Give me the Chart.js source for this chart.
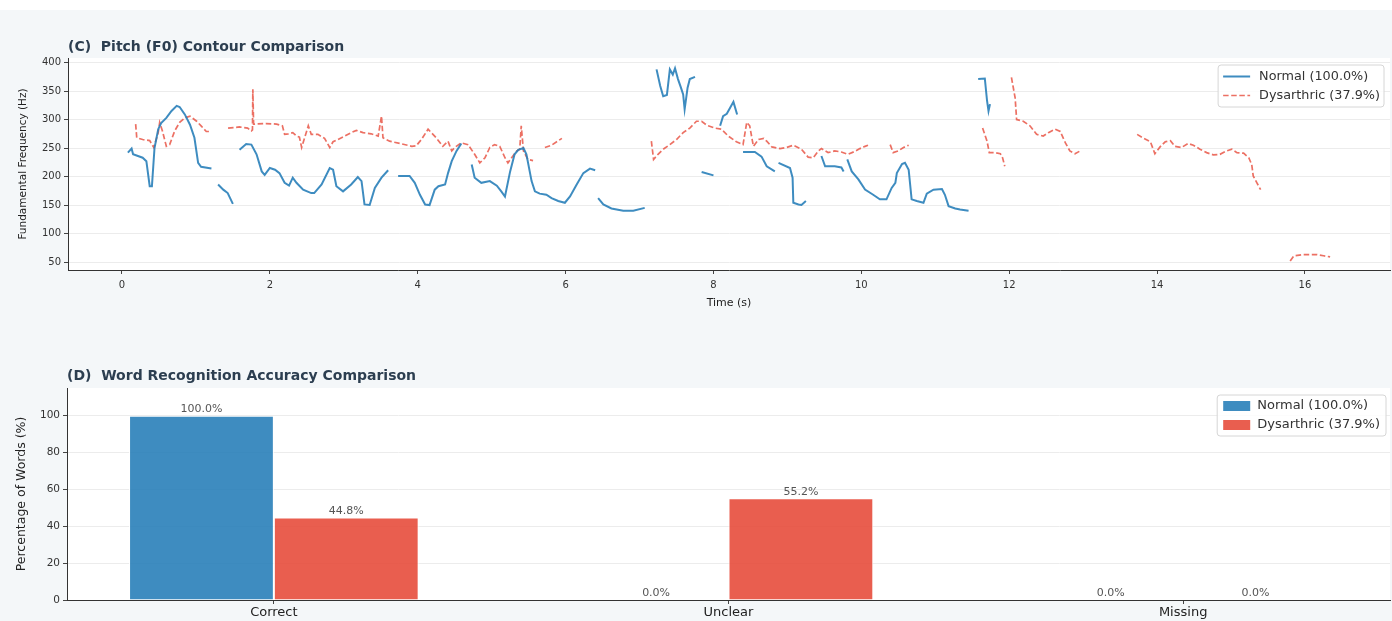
<!DOCTYPE html>
<html>
<head>
<meta charset="utf-8">
<script src="https://cdn.jsdelivr.net/npm/chart.js@4.4.0/dist/chart.umd.min.js"></script>
<style>
  html, body { margin: 0; padding: 0; background: #f4f7f9; }
  body { width: 1392px; height: 621px; position: relative; overflow: hidden; }
  #strip { position: absolute; left: 0; top: 0; width: 1392px; height: 10px; background: #ffffff; }
  #pitch { position: absolute; left: 0; top: 0; }
  #words { position: absolute; left: 0; top: 320px; }
</style>
</head>
<body>
<div id="strip"></div>
<canvas id="pitch" width="1392" height="320"></canvas>
<canvas id="words" width="1392" height="301"></canvas>
<script>
// ---------------- DATA ----------------
const seriesNames = ['Normal (100.0%)', 'Dysarthric (37.9%)'];

// Pitch contour, normal speaker (time in s, F0 in Hz; null = unvoiced gap)
const normalTime = [
  0.08, 0.13, 0.15, 0.28, 0.33, 0.375, 0.405, 0.44, 0.49, 0.53, 0.60, 0.67, 0.74, 0.78, 0.85, 0.92, 0.98, 1.03, 1.07, 1.21, null,
  1.30, 1.37, 1.43, 1.50, null,
  1.59, 1.68, 1.75, 1.82, 1.89, 1.93, 2.00, 2.07, 2.13, 2.20, 2.26, 2.31, 2.36, 2.45, 2.56, 2.60, 2.70, 2.81, 2.855, 2.90, 2.99, 3.10, 3.19, 3.24, 3.28, 3.35, 3.42, 3.51, 3.60, null,
  3.735, 3.89, 3.96, 4.03, 4.10, 4.16, 4.23, 4.28, 4.37, 4.41, 4.46, 4.525, 4.59, null,
  4.73, 4.77, 4.86, 4.975, 5.07, 5.13, 5.18, 5.25, 5.31, 5.36, 5.43, 5.47, 5.54, 5.585, 5.65, 5.74, 5.81, 5.90, 5.99, 6.06, 6.15, 6.24, 6.33, 6.40, null,
  6.44, 6.51, 6.62, 6.78, 6.915, 7.07, null,
  7.23, 7.28, 7.32, 7.37, 7.41, 7.45, 7.48, 7.52, 7.56, 7.59, 7.61, 7.65, 7.68, 7.75, null,
  7.84, 8.00, null,
  8.09, 8.13, 8.18, 8.27, 8.32, null,
  8.40, 8.56, 8.65, 8.72, 8.83, null,
  8.88, 9.035, 9.07, 9.08, 9.15, 9.19, 9.25, null,
  9.46, 9.51, 9.64, 9.73, 9.76, null,
  9.81, 9.87, 9.96, 10.05, 10.16, 10.25, 10.34, 10.41, 10.46, 10.48, 10.55, 10.59, 10.64, 10.68, 10.75, 10.84, 10.885, 10.975, 11.09, 11.13, 11.18, 11.27, 11.335, 11.45, null,
  11.58, 11.67, 11.70, 11.72, 11.74
];
const normalF0 = [
  242, 249, 239, 233, 227, 183, 183, 250, 283, 294, 303, 315, 324, 322, 309, 291, 268, 224, 217, 214, null,
  186, 177, 171, 152, null,
  247, 257, 256, 239, 209, 203, 215, 212, 206, 189, 184, 198, 189, 177, 171, 171, 186, 215, 212, 183, 174, 186, 199, 192, 151, 150, 180, 198, 211, null,
  201, 201, 189, 168, 151, 150, 177, 183, 186, 206, 227, 245, 258, null,
  221, 198, 189, 192, 184, 174, 165, 209, 239, 247, 250, 239, 192, 174, 170, 168, 162, 157, 154, 165, 186, 206, 214, 211, null,
  162, 151, 144, 140, 140, 145, null,
  388, 359, 341, 343, 388, 379, 390, 371, 356, 344, 318, 356, 371, 375, null,
  208, 202, null,
  289, 306, 310, 331, 309, null,
  243, 243, 235, 218, 209, null,
  224, 215, 198, 154, 151, 150, 157, null,
  236, 218, 218, 216, 209, null,
  230, 209, 195, 177, 168, 160, 160, 180, 189, 206, 222, 224, 212, 160, 157, 154, 170, 177, 178, 168, 148, 144, 142, 140, null,
  371, 372, 333, 315, 327
];

// Pitch contour, dysarthric speaker
const dysTime = [
  0.185, 0.20, 0.28, 0.375, 0.43, 0.49, 0.51, 0.547, 0.60, 0.645, 0.713, 0.78, 0.85, 0.92, 1.01, 1.07, 1.14, 1.21, null,
  1.435, 1.59, 1.70, 1.75, 1.765, 1.77, 1.78, 1.95, 2.09, 2.17, 2.20, 2.25, 2.31, 2.36, 2.40, 2.43, 2.52, 2.56, 2.65, 2.74, 2.81, 2.855, 2.92, 3.01, 3.10, 3.17, 3.26, 3.37, 3.465, 3.51, 3.53, 3.62, 3.76, 3.92, 3.98, 4.05, 4.14, 4.25, 4.34, 4.41, 4.46, 4.50, 4.59, 4.68, 4.77, 4.84, 4.91, 4.975, 5.04, 5.11, 5.18, 5.22, 5.27, 5.34, 5.38, 5.40, 5.43, 5.49, 5.56, null,
  5.72, 5.81, 5.88, 5.95, null,
  7.16, 7.19, 7.25, 7.32, 7.41, 7.50, 7.59, 7.68, 7.77, 7.84, 7.91, 8.02, 8.11, 8.20, 8.31, 8.40, 8.45, 8.49, 8.54, 8.61, 8.68, 8.72, 8.79, 8.90, 8.99, 9.08, 9.19, 9.28, 9.35, 9.42, 9.46, 9.55, 9.64, 9.73, 9.82, 9.91, 9.98, 10.05, 10.09, null,
  10.39, 10.43, 10.50, 10.57, 10.64, null,
  11.64, 11.70, 11.73, 11.81, 11.88, 11.91, 11.94, null,
  12.03, 12.08, 12.10, 12.19, 12.28, 12.37, 12.46, 12.53, 12.62, 12.69, 12.76, 12.82, 12.89, 12.96, null,
  13.73, 13.82, 13.91, 13.97, 14.04, 14.11, 14.18, 14.24, 14.33, 14.42, 14.49, 14.58, 14.67, 14.76, 14.85, 14.94, 15.01, 15.08, 15.17, 15.24, 15.28, 15.30, 15.35, 15.40, null,
  15.80, 15.85, 15.98, 16.16, 16.25, 16.34
];
const dysF0 = [
  292, 268, 265, 263, 251, 277, 295, 280, 253, 256, 280, 295, 303, 306, 297, 289, 279, 279, null,
  285, 287, 285, 280, 282, 353, 292, 293, 292, 289, 274, 275, 277, 271, 269, 251, 289, 274, 274, 267, 251, 261, 265, 271, 277, 281, 277, 275, 271, 306, 268, 262, 258, 253, 254, 265, 283, 268, 253, 262, 245, 251, 259, 256, 239, 224, 233, 251, 256, 253, 233, 224, 233, 245, 248, 289, 245, 230, 228, null,
  251, 255, 261, 267, null,
  262, 230, 239, 248, 256, 265, 277, 285, 297, 297, 290, 285, 283, 271, 261, 256, 295, 289, 253, 265, 267, 262, 252, 249, 251, 255, 248, 234, 233, 245, 249, 242, 245, 243, 239, 244, 249, 253, 255, null,
  256, 242, 245, 251, 255, null,
  285, 262, 242, 242, 240, 233, 218, null,
  374, 338, 300, 297, 289, 274, 271, 277, 283, 279, 259, 245, 240, 245, null,
  274, 267, 261, 240, 252, 261, 263, 253, 251, 258, 255, 248, 242, 238, 239, 245, 248, 242, 241, 233, 221, 201, 189, 177, null,
  52, 61, 63, 63, 61, 59
];
const pitchYTicksStep = 50;
const pitchXTicksStep = 2;

// Word recognition accuracy (%)
const categories = ['Correct', 'Unclear', 'Missing'];
const normalPct = [100.0, 0.0, 0.0];
const dysPct = [44.8, 55.2, 0.0];

// ---------------- HELPERS ----------------
const FONT = "'DejaVu Sans', 'Liberation Sans', sans-serif";
const BLUE_LINE = 'rgba(41,128,185,0.9)';
const RED_LINE = 'rgba(231,76,60,0.8)';
const BLUE_BAR = 'rgba(41,128,185,0.9)';
const RED_BAR = 'rgba(231,76,60,0.9)';

function toPoints(times, values) {
  let last = 0;
  return times.map((t, i) => {
    if (t !== null) last = t;
    return { x: last, y: values[i] };
  });
}

const plotBg = {
  id: 'plotBg',
  beforeDraw(chart) {
    const { ctx, chartArea: a } = chart;
    ctx.save();
    ctx.fillStyle = '#ffffff';
    ctx.fillRect(a.left, a.top, a.right - a.left, a.bottom - a.top);
    ctx.restore();
  }
};

const panelTitle = {
  id: 'panelTitle',
  afterDraw(chart, args, o) {
    const { ctx, chartArea: a } = chart;
    ctx.save();
    ctx.font = 'bold ' + o.size + 'px ' + FONT;
    ctx.fillStyle = '#2c3e50';
    ctx.textAlign = 'left';
    ctx.textBaseline = 'middle';
    ctx.fillText(o.text, a.left, a.top - o.gap);
    ctx.restore();
  }
};

function roundRect(ctx, x, y, w, h, r) {
  ctx.beginPath();
  ctx.moveTo(x + r, y);
  ctx.lineTo(x + w - r, y);
  ctx.arcTo(x + w, y, x + w, y + r, r);
  ctx.lineTo(x + w, y + h - r);
  ctx.arcTo(x + w, y + h, x + w - r, y + h, r);
  ctx.lineTo(x + r, y + h);
  ctx.arcTo(x, y + h, x, y + h - r, r);
  ctx.lineTo(x, y + r);
  ctx.arcTo(x, y, x + r, y, r);
  ctx.closePath();
}

const boxLegend = {
  id: 'boxLegend',
  afterDraw(chart, args, o) {
    const { ctx, chartArea: a } = chart;
    const sets = chart.data.datasets;
    ctx.save();
    ctx.font = o.size + 'px ' + FONT;
    const tw = Math.max(...sets.map(d => ctx.measureText(d.label).width));
    const w = o.padL + o.handle + o.gap + tw + o.padR;
    const h = o.padY * 2 + o.row * sets.length;
    const x0 = a.right - o.right - w;
    const y0 = a.top + o.top;
    roundRect(ctx, x0, y0, w, h, 3);
    ctx.fillStyle = 'rgba(255,255,255,0.85)';
    ctx.fill();
    ctx.strokeStyle = '#d6d6d6';
    ctx.lineWidth = 1;
    ctx.stroke();
    sets.forEach((d, i) => {
      const cy = y0 + o.padY + o.row * (i + 0.5);
      const hx = x0 + o.padL;
      if (o.kind === 'line') {
        ctx.save();
        ctx.strokeStyle = d.borderColor;
        ctx.lineWidth = d.borderWidth;
        ctx.setLineDash(d.borderDash || []);
        ctx.beginPath();
        ctx.moveTo(hx, cy);
        ctx.lineTo(hx + o.handle, cy);
        ctx.stroke();
        ctx.restore();
      } else {
        ctx.fillStyle = d.backgroundColor;
        ctx.fillRect(hx, cy - 5, o.handle, 10);
      }
      ctx.fillStyle = '#333333';
      ctx.textAlign = 'left';
      ctx.textBaseline = 'middle';
      ctx.fillText(d.label, hx + o.handle + o.gap, cy);
    });
    ctx.restore();
  }
};

const barValues = {
  id: 'barValues',
  afterDatasetsDraw(chart, args, o) {
    const { ctx } = chart;
    ctx.save();
    ctx.font = o.size + 'px ' + FONT;
    ctx.fillStyle = '#555555';
    ctx.textAlign = 'center';
    ctx.textBaseline = 'bottom';
    chart.data.datasets.forEach((d, i) => {
      chart.getDatasetMeta(i).data.forEach((bar, j) => {
        ctx.fillText(d.data[j].y.toFixed(1) + '%', bar.x, bar.y - 1);
      });
    });
    ctx.restore();
  }
};

// ---------------- CHART C: PITCH ----------------
new Chart(document.getElementById('pitch'), {
  type: 'line',
  data: {
    datasets: [
      {
        label: seriesNames[0],
        data: toPoints(normalTime, normalF0),
        borderColor: BLUE_LINE,
        borderWidth: 2,
        pointRadius: 0,
        tension: 0,
        spanGaps: false,
        fill: false
      },
      {
        label: seriesNames[1],
        data: toPoints(dysTime, dysF0),
        borderColor: RED_LINE,
        borderWidth: 1.7,
        borderDash: [5.5, 2.6],
        pointRadius: 0,
        tension: 0,
        spanGaps: false,
        fill: false
      }
    ]
  },
  options: {
    responsive: false,
    animation: false,
    layout: { padding: { left: 0, right: 2, top: 58, bottom: 0 } },
    scales: {
      x: {
        type: 'linear',
        min: -0.73,
        max: 17.15,
        offset: false,
        afterFit(s) { s.height = 50; },
        grid: { drawOnChartArea: false, offset: false, tickLength: 4, tickColor: '#444', tickWidth: 1 },
        border: { color: '#333', width: 1 },
        ticks: { stepSize: pitchXTicksStep, includeBounds: false, padding: 5, color: '#333', font: { family: FONT, size: 10 }, maxRotation: 0 },
        title: { display: true, text: 'Time (s)', color: '#222', font: { family: FONT, size: 11 }, padding: { top: 0, bottom: 10.4 } }
      },
      y: {
        type: 'linear',
        min: 36,
        max: 408,
        afterFit(s) { s.width = 68; },
        grid: { color: '#ececec', lineWidth: 1, tickLength: 4, tickColor: '#444', tickWidth: 1 },
        border: { color: '#333', width: 1 },
        ticks: { stepSize: pitchYTicksStep, includeBounds: false, padding: 3, color: '#333', font: { family: FONT, size: 10 } },
        title: { display: true, text: 'Fundamental Frequency (Hz)', color: '#222', font: { family: FONT, size: 10.5 }, padding: { top: 16.5, bottom: 0 } }
      }
    },
    plugins: {
      legend: { display: false },
      tooltip: { enabled: false },
      panelTitle: { text: '(C)  Pitch (F0) Contour Comparison', size: 14, gap: 11 },
      boxLegend: { kind: 'line', size: 12.8, padL: 5, handle: 27, gap: 9, padR: 4, padY: 2, row: 19, right: 6, top: 7 }
    }
  },
  plugins: [plotBg, panelTitle, boxLegend]
});

// ---------------- CHART D: WORDS ----------------
new Chart(document.getElementById('words'), {
  type: 'bar',
  data: {
    datasets: [
      {
        label: seriesNames[0],
        data: categories.map((c, i) => ({ x: i, y: normalPct[i] })),
        backgroundColor: BLUE_BAR,
        borderColor: '#ffffff',
        borderWidth: ctx => (ctx.raw && ctx.raw.y > 0 ? 1 : 0)
      },
      {
        label: seriesNames[1],
        data: categories.map((c, i) => ({ x: i, y: dysPct[i] })),
        backgroundColor: RED_BAR,
        borderColor: '#ffffff',
        borderWidth: ctx => (ctx.raw && ctx.raw.y > 0 ? 1 : 0)
      }
    ]
  },
  options: {
    responsive: false,
    animation: false,
    categoryPercentage: 0.637,
    barPercentage: 1.0,
    layout: { padding: { left: 0, right: 2, top: 68, bottom: 0 } },
    scales: {
      x: {
        type: 'linear',
        min: -0.455,
        max: 2.455,
        offset: false,
        afterBuildTicks(s) { s.ticks = categories.map((c, i) => ({ value: i })); },
        afterFit(s) { s.height = 21; },
        grid: { drawOnChartArea: false, offset: false, tickLength: 4, tickColor: '#444', tickWidth: 1 },
        border: { color: '#333', width: 1 },
        ticks: { padding: 1, color: '#222', font: { family: FONT, size: 13 }, maxRotation: 0, callback: v => categories[v] ?? '' }
      },
      y: {
        type: 'linear',
        min: 0,
        max: 115,
        afterFit(s) { s.width = 67; },
        grid: { color: '#ececec', lineWidth: 1, tickLength: 4, tickColor: '#444', tickWidth: 1 },
        border: { color: '#333', width: 1 },
        ticks: { stepSize: 20, includeBounds: false, padding: 3, color: '#333', font: { family: FONT, size: 10.5 } },
        title: { display: true, text: 'Percentage of Words (%)', color: '#222', font: { family: FONT, size: 12.5 }, padding: { top: 14.5, bottom: 0 } }
      }
    },
    plugins: {
      legend: { display: false },
      tooltip: { enabled: false },
      panelTitle: { text: '(D)  Word Recognition Accuracy Comparison', size: 14, gap: 12 },
      barValues: { size: 11 },
      boxLegend: { kind: 'box', size: 13, padL: 6, handle: 27, gap: 7, padR: 6, padY: 1.5, row: 19, right: 4, top: 7 }
    }
  },
  plugins: [plotBg, panelTitle, barValues, boxLegend]
});
</script>
</body>
</html>
